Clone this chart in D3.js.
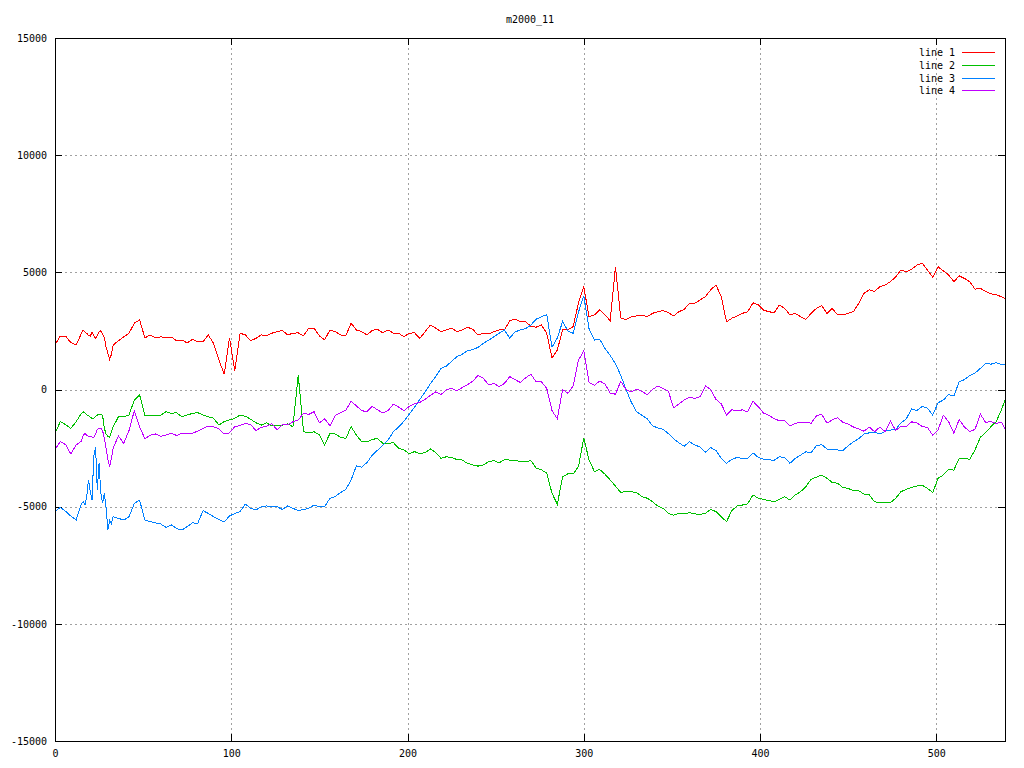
<!DOCTYPE html>
<html>
<head>
<meta charset="utf-8">
<script src="https://cdn.jsdelivr.net/npm/d3@7"></script>
<style>
  html, body { margin: 0; padding: 0; background: #fff; }
  svg { display: block; }
  text { font-family: "DejaVu Sans Mono", "Liberation Mono", monospace; font-size: 10px; fill: #000; }
</style>
</head>
<body>
<svg id="chart" width="1024" height="768"></svg>
<script>
// ---- data ----
const title = "m2000_11";
const seriesNames = ["line 1", "line 2", "line 3", "line 4"];
const seriesColors = ["#ff0000", "#00c000", "#0080ff", "#c000ff"];
const xTicks = [0, 100, 200, 300, 400, 500];
const yTicks = [-15000, -10000, -5000, 0, 5000, 10000, 15000];

// sample positions (index along the x axis)
const xs = [0, 3, 6, 9, 12,
  15, 16, 17, 18, 19, 20, 21, 22, 23, 24, 25, 26, 27, 28, 29, 30, 31, 32]
  .concat(d3.range(33, 538, 3)).concat([539]);

const line1 = [1900, 2280, 2280, 2000, 1900,
  2400, 2540, 2450, 2400, 2300, 2280, 2430, 2300, 2180, 2300, 2450, 2510, 2350, 2200, 1800, 1540, 1290, 1500,
  1900, 2080, 2250, 2400, 2830, 2970, 2200, 2330, 2200, 2250, 2200, 2240, 2080, 2110, 1990, 2140, 2040, 2040,
  2330, 1960, 1260, 650, 2200, 800, 2400, 2330, 2080, 2180, 2330, 2290, 2400, 2470, 2520, 2330, 2400, 2420,
  2290, 2620, 2620, 2290, 2120, 2540, 2470, 2330, 2290, 2830, 2540, 2470, 2330, 2520, 2570, 2420, 2540, 2400,
  2400, 2250, 2400, 2420, 2180, 2470, 2750, 2620, 2470, 2540, 2620, 2470, 2540, 2660, 2570, 2330, 2400, 2370,
  2470, 2540, 2540, 2940, 3000, 2900, 2900, 2690, 2660, 2750, 2400, 1340, 1690, 2540, 2540, 2690, 3690, 4390,
  3110, 3180, 3400, 3180, 2940, 5240, 3050, 2980, 3110, 3140, 3180, 3110, 3250, 3320, 3370, 3280, 3140, 3320,
  3420, 3680, 3680, 3820, 3960, 4250, 4460, 3960, 2890, 3040, 3140, 3250, 3320, 3700, 3610, 3390, 3320, 3280,
  3600, 3460, 3180, 3250, 3110, 2990, 3250, 3460, 3580, 3250, 3460, 3180, 3180, 3250, 3320, 3680, 4100, 4250,
  4180, 4390, 4460, 4600, 4810, 5100, 5030, 5130, 5310, 5390, 5100, 4790, 5240, 5060, 4890, 4600, 4850, 4740,
  4600, 4280, 4320, 4180, 4080, 4040, 3960, 3890];

const line2 = [-1870, -1370, -1500, -1660, -1370,
  -1020, -950, -1000, -1090, -1120, -1190, -1230, -1230, -1150, -1090, -1050, -1050, -1100, -1660, -1900, -2000, -2040, -1800,
  -1600, -1160, -1160, -1090, -450, -230, -1090, -1090, -1090, -1090, -950, -1020, -990, -1160, -1090, -1020,
  -990, -1090, -1160, -1230, -1520, -1370, -1300, -1230, -1090, -1140, -1270, -1420, -1520, -1420, -1560, -1520,
  -1520, -1470, -1590, 620, -1800, -1850, -1800, -1940, -2370, -1870, -1900, -2040, -2090, -1590, -1940, -2230,
  -2230, -2130, -2090, -2300, -2300, -2270, -2500, -2580, -2740, -2650, -2740, -2690, -2540, -2690, -2940, -2870,
  -2900, -2990, -3010, -3150, -3220, -3270, -3220, -3080, -3030, -3130, -2990, -3010, -3010, -3080, -3080, -3030,
  -3360, -3430, -3570, -4430, -4900, -3720, -3600, -3600, -3290, -2080, -3000, -3500, -3410, -3610, -3860, -4120,
  -4400, -4330, -4360, -4400, -4570, -4640, -4790, -4970, -5070, -5290, -5360, -5290, -5310, -5260, -5310, -5330,
  -5290, -5120, -5210, -5430, -5640, -5170, -4970, -4930, -4880, -4500, -4640, -4690, -4740, -4790, -4690, -4570,
  -4720, -4500, -4360, -4150, -3830, -3740, -3650, -3790, -3970, -4000, -4180, -4220, -4320, -4320, -4460, -4500,
  -4790, -4830, -4830, -4830, -4640, -4360, -4260, -4180, -4120, -4080, -4220, -4400, -3790, -3650, -3410, -3440,
  -2940, -2940, -2980, -2580, -2040, -1840, -1590, -1370, -870, -450];

const line3 = [-5200, -5030, -5200, -5400, -5570,
  -4860, -4790, -4930, -4570, -3860, -4360, -4720, -2870, -2440, -4290, -3150, -4430, -4860, -4430, -5070, -6000, -5570, -5710,
  -5430, -5500, -5570, -5430, -4860, -4720, -5570, -5640, -5690, -5740, -5880, -5780, -5930, -6000, -5850, -5690,
  -5710, -5170, -5290, -5430, -5540, -5650, -5400, -5290, -5210, -4890, -5070, -5140, -5000, -4970, -5000, -5000,
  -5120, -4970, -5070, -5170, -5120, -5070, -4930, -5000, -5000, -4640, -4570, -4400, -4260, -3860, -3260, -3310,
  -3120, -2800, -2590, -2370, -2150, -1800, -1600, -1350, -1050, -750, -420, -100, 250, 550, 900, 1000,
  1200, 1400, 1500, 1650, 1700, 1800, 1970, 2100, 2250, 2400, 2540, 2200, 2450, 2550, 2600, 2750,
  3000, 3100, 3200, 1800, 2200, 2900, 2500, 2400, 3300, 4000, 2600, 2110, 2150, 1750, 1450, 1100,
  600, 0, -550, -950, -1100, -1250, -1550, -1640, -1700, -1880, -2100, -2280, -2420, -2230, -2370, -2450,
  -2680, -2480, -2600, -2930, -3150, -2980, -2900, -2950, -2950, -2700, -2900, -2970, -3000, -3020, -2870, -2900,
  -3150, -2940, -2800, -2660, -2700, -2400, -2350, -2540, -2550, -2580, -2610, -2400, -2230, -2100, -1900, -1850,
  -1820, -1900, -1780, -1730, -1700, -1420, -1250, -830, -900, -720, -790, -1090, -570, -450, -220, -270,
  330, 420, 600, 700, 900, 1120, 1080, 1150, 1060, 1090];

const line4 = [-2550, -2230, -2350, -2750, -2370,
  -2200, -1950, -1870, -1950, -2000, -2010, -2030, -2040, -1900, -1700, -1660, -1660, -1750, -2100, -2500, -3000, -3290, -2950,
  -2500, -1980, -2300, -1750, -900, -1600, -2100, -1950, -1900, -2000, -1940, -1870, -1960, -1870, -1900, -1860,
  -1780, -1660, -1560, -1590, -1680, -1900, -1850, -1590, -1530, -1450, -1500, -1750, -1620, -1560, -1460, -1720,
  -1500, -1500, -1380, -1300, -1020, -1060, -950, -1420, -1250, -1550, -1100, -1000, -880, -500, -700, -900,
  -950, -720, -870, -1000, -900, -620, -750, -900, -720, -600, -550, -420, -250, -100, -220, -10,
  50, -60, 80, 200, 350, 600, 480, 200, 260, 120, 260, 550, 420, 300, 500, 650,
  330, 330, 50, -900, -1250, 0, -160, 150, 1250, 1650, 300, 180, 360, 240, -160, -200,
  350, -10, -100, 20, -80, -230, 0, 150, 50, -80, -780, -620, -450, -330, -380, -300,
  150, 0, -420, -610, -1090, -870, -900, -870, -960, -500, -730, -1010, -1100, -1250, -1330, -1330,
  -1560, -1440, -1400, -1400, -1440, -1130, -1050, -1440, -1300, -1200, -1400, -1480, -1600, -1680, -1780, -1600,
  -1800, -1600, -1800, -1350, -1750, -1560, -1580, -1380, -1420, -1580, -1620, -1950, -1730, -1100, -1370, -1870,
  -1280, -1600, -1800, -1700, -1050, -1400, -1370, -1440, -1400, -1660];

const seriesValues = [line1, line2, line3, line4];

// ---- layout ----
const svg = d3.select("#chart");
const mLeft = 55, mRight = 1005, mTop = 38, mBottom = 741;

const x = d3.scaleLinear().domain([0, 539]).range([mLeft, mRight]);
const y = d3.scaleLinear().domain([-15000, 15000]).range([mBottom, mTop]);

svg.append("rect").attr("width", 1024).attr("height", 768).attr("fill", "#fff");

// grid
const grid = svg.append("g").attr("shape-rendering", "crispEdges")
  .attr("stroke", "#a0a0a0").attr("stroke-width", 1).attr("stroke-dasharray", "2,3");
xTicks.filter(t => t > 0).forEach(t => {
  const px = Math.round(x(t)) + 0.5;
  grid.append("line").attr("x1", px).attr("x2", px).attr("y1", mTop).attr("y2", mBottom);
});
yTicks.filter(t => t > -15000 && t < 15000).forEach(t => {
  const py = Math.round(y(t)) + 0.5;
  grid.append("line").attr("x1", mLeft).attr("x2", mRight).attr("y1", py).attr("y2", py);
});

// axes (gnuplot style: inward ticks, mirrored)
const tickLen = 7;
const plain = d => String(d);
const axB = d3.axisBottom(x).tickValues(xTicks).tickFormat(plain).tickSize(0).tickPadding(9);
const axL = d3.axisLeft(y).tickValues(yTicks).tickFormat(plain).tickSize(0).tickPadding(8);
const gB = svg.append("g").attr("transform", `translate(0,${mBottom})`).call(axB);
const gL = svg.append("g").attr("transform", `translate(${mLeft},0)`).call(axL);
[gB, gL].forEach(g => {
  g.select(".domain").remove();
  g.selectAll("text").style("font-family", '"DejaVu Sans Mono", monospace').style("font-size", "10px").attr("fill", "#000");
});

const tk = svg.append("g").attr("stroke", "#000").attr("stroke-width", 1).attr("shape-rendering", "crispEdges");
xTicks.forEach(t => {
  const px = Math.round(x(t)) + 0.5;
  tk.append("line").attr("x1", px).attr("x2", px).attr("y1", mBottom).attr("y2", mBottom - tickLen);
  tk.append("line").attr("x1", px).attr("x2", px).attr("y1", mTop).attr("y2", mTop + tickLen);
});
yTicks.forEach(t => {
  const py = Math.round(y(t)) + 0.5;
  tk.append("line").attr("x1", mLeft).attr("x2", mLeft + tickLen).attr("y1", py).attr("y2", py);
  tk.append("line").attr("x1", mRight).attr("x2", mRight - tickLen).attr("y1", py).attr("y2", py);
});

// data lines
const lineGen = d3.line()
  .defined((d, i) => xs[i] !== undefined && d !== undefined)
  .x((d, i) => x(xs[i])).y(d => y(d));
seriesValues.forEach((vals, k) => {
  svg.append("path").datum(vals)
    .attr("fill", "none")
    .attr("stroke", seriesColors[k])
    .attr("stroke-width", 1)
    .attr("stroke-linejoin", "miter")
    .attr("shape-rendering", "crispEdges")
    .attr("d", lineGen);
});

// border
svg.append("rect").attr("x", mLeft + 0.5).attr("y", mTop + 0.5)
  .attr("width", mRight - mLeft).attr("height", mBottom - mTop)
  .attr("fill", "none").attr("stroke", "#000").attr("stroke-width", 1)
  .attr("shape-rendering", "crispEdges");

// title
svg.append("text").attr("x", (mLeft + mRight) / 2).attr("y", 23)
  .attr("text-anchor", "middle").text(title);

// legend
const leg = svg.append("g");
seriesNames.forEach((name, k) => {
  const ly = Math.round(52 + k * 12.8);
  leg.append("text").attr("x", 955).attr("y", ly).attr("dy", "0.35em")
    .attr("text-anchor", "end").text(name);
  leg.append("line").attr("x1", 962).attr("x2", 995)
    .attr("y1", ly + 0.5).attr("y2", ly + 0.5)
    .attr("stroke", seriesColors[k]).attr("stroke-width", 1)
    .attr("shape-rendering", "crispEdges");
});
</script>
</body>
</html>
